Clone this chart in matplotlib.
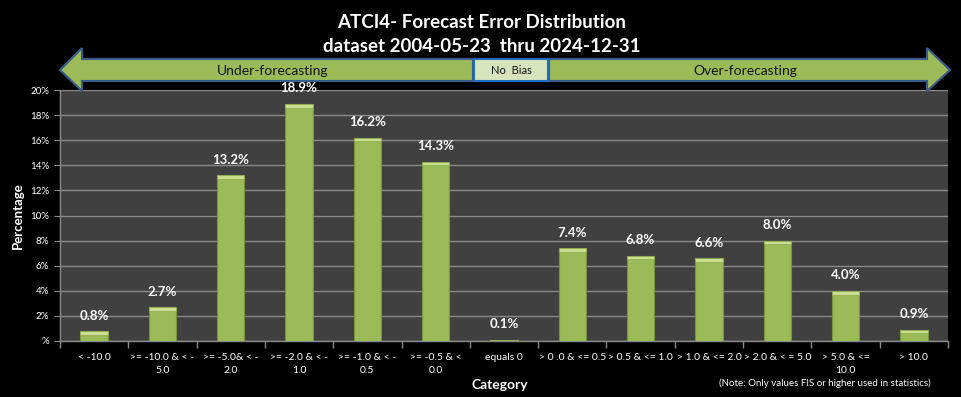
import numpy as np
import matplotlib.pyplot as plt
from matplotlib.patches import Polygon, Rectangle

# data
categories = ["< -10.0", ">= -10.0 & < -\n5.0", ">= -5.0& < -\n2.0", ">= -2.0 & < -\n1.0",
              ">= -1.0 & < -\n0.5", ">= -0.5 & <\n0.0", "equals 0", "> 0 .0 & <= 0.5",
              "> 0.5 & <= 1.0", "> 1.0 & <= 2.0", "> 2.0 & < = 5.0", "> 5.0 & <=\n10.0", "> 10.0"]
percent = [0.8, 2.7, 13.2, 18.9, 16.2, 14.3, 0.1, 7.4, 6.8, 6.6, 8.0, 4.0, 0.9]
yticks = [0, 2, 4, 6, 8, 10, 12, 14, 16, 18, 20]
ytick_labels = ["%"] + [f"{v}%" for v in yticks[1:]]

plt.rcParams['font.family'] = ['Lato', 'DejaVu Sans']

W, H = 961, 397
fig = plt.figure(figsize=(W / 100, H / 100), dpi=100, facecolor='black')
ax = fig.add_axes([60 / W, 1 - 341 / H, 888 / W, 251 / H])
ax.set_facecolor('#404040')

x = np.arange(len(percent))
vals = np.array(percent)
ax.bar(x, vals, width=0.4, color='#9BBB59', edgecolor='#77933C', linewidth=0.8, zorder=3)
# lighter bevel at the bar tops
cap = np.minimum(vals, 0.3)
ax.bar(x, cap, bottom=vals - cap, width=0.4, color='#C9DE8F', edgecolor='#8AA84A',
       linewidth=0.5, zorder=4)

for xi, v in zip(x, percent):
    ax.text(xi, v + 0.75, f"{v:.1f}%", ha='center', va='bottom', color='white',
            fontsize=9.5, fontweight='bold', zorder=5)

ax.set_xlim(-0.5, len(percent) - 0.5)
ax.set_ylim(0, 20)
ax.set_yticks(yticks)
ax.set_yticklabels(ytick_labels, color='white', fontsize=7)
ax.yaxis.grid(True, color='#8a8a8a', linewidth=1, zorder=0)
ax.set_axisbelow(True)

ax.set_xticks(x)
ax.set_xticklabels(categories, color='white', fontsize=7.5, linespacing=1.5)
ax.tick_params(axis='x', length=0, pad=9)
ax.set_xticks(np.arange(-0.5, len(percent), 1), minor=True)
ax.tick_params(axis='x', which='minor', length=5, color='#8a8a8a', width=1)
ax.tick_params(axis='y', length=4, color='#8a8a8a', pad=4)

for s in ['top', 'right']:
    ax.spines[s].set_visible(False)
for s in ['left', 'bottom']:
    ax.spines[s].set_color('#8a8a8a')
    ax.spines[s].set_linewidth(1)

ax.set_ylabel("Percentage", color='white', fontsize=9.5, fontweight='bold', labelpad=4)
fig.text(500 / W, 1 - 385 / H, "Category", color='white', fontsize=10, fontweight='bold',
         ha='center', va='center')
fig.text(825 / W, 1 - 383 / H, "(Note: Only values FIS or higher used in statistics)",
         color='white', fontsize=7, ha='center', va='center')

fig.text(482 / W, 1 - 22 / H, "ATCI4- Forecast Error Distribution", color='white',
         fontsize=13.5, fontweight='bold', ha='center', va='center')
fig.text(482 / W, 1 - 47 / H, "dataset 2004-05-23  thru 2024-12-31", color='white',
         fontsize=13.5, fontweight='bold', ha='center', va='center')


def px(pts):
    return [(a / W, 1 - b / H) for a, b in pts]


left_arrow = px([(60, 70), (82, 48), (82, 59), (473, 59), (473, 81), (82, 81), (82, 91)])
right_arrow = px([(950, 70), (927, 48), (927, 59), (549, 59), (549, 81), (927, 81), (927, 91)])
for pts in (left_arrow, right_arrow):
    fig.patches.append(Polygon(pts, closed=True, facecolor='#9BBB59', edgecolor='#385D8A',
                               linewidth=1.5, transform=fig.transFigure, figure=fig))
fig.patches.append(Rectangle((474 / W, 1 - 81 / H), 74 / W, 22 / H, facecolor='#D7E4BD',
                             edgecolor='#1F6FBF', linewidth=1.5, transform=fig.transFigure,
                             figure=fig))
fig.text(273 / W, 1 - 71 / H, "Under-forecasting", fontsize=10, color='#111111',
         ha='center', va='center')
fig.text(745 / W, 1 - 71 / H, "Over-forecasting", fontsize=10, color='#111111',
         ha='center', va='center')
fig.text(511 / W, 1 - 71 / H, "No  Bias", fontsize=8, color='#111111',
         ha='center', va='center')

fig.savefig("out.png", dpi=100, facecolor='black')
